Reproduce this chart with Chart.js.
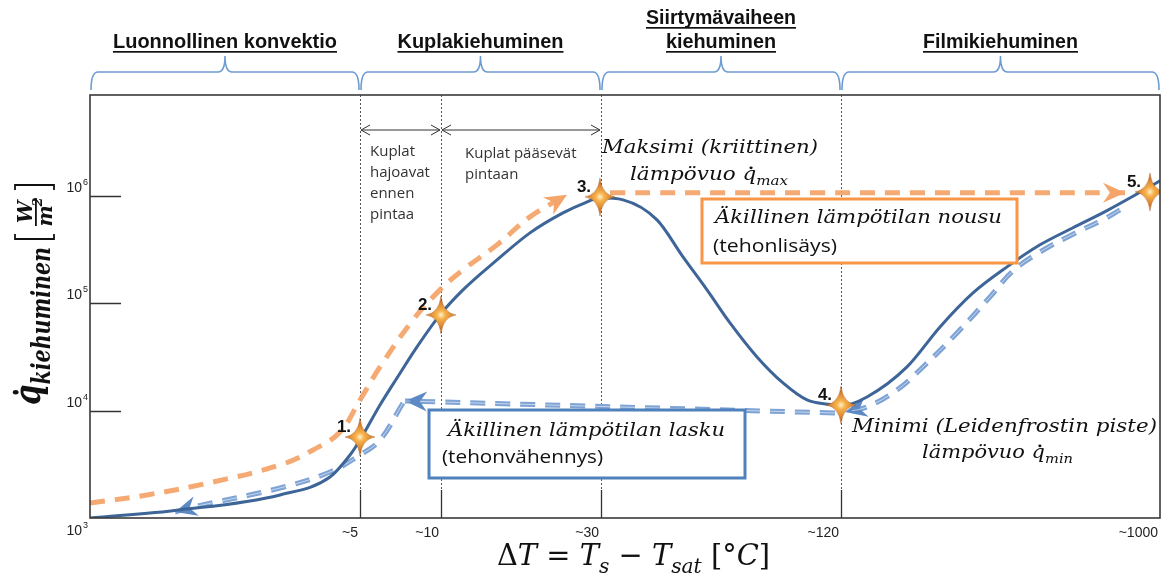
<!DOCTYPE html>
<html>
<head>
<meta charset="utf-8">
<script src="https://cdn.jsdelivr.net/npm/chart.js@4.4.0/dist/chart.umd.min.js"></script>
<style>
  html, body { margin: 0; padding: 0; background: #fff; }
  canvas { display: block; }
</style>
</head>
<body>
<canvas id="chart" width="1176" height="573"></canvas>
<script>
// x is a schematic position (0 = left edge, 107 = right edge); the real ΔT axis is not to scale
const xTicks = [27, 35.1, 51.1, 75.1, 107];
const xTickLabels = ['~5', '~10', '~30', '~120', '~1000'];
const yTicks = [1e3, 1e4, 1e5, 1e6];
const yTickExp = ['3', '4', '5', '6'];

const regionEdges = [0, 27, 51.1, 75.1, 107];
const regionTitles = [['Luonnollinen konvektio'], ['Kuplakiehuminen'], ['Siirtymävaiheen', 'kiehuminen'], ['Filmikiehuminen']];
const regionTitleWidths = [[224], [166], [150, 110], [155]];

// boiling curve (W/m2)
const curveX = [0, 9, 19, 24, 26, 27, 29, 30.7, 32.7, 35, 37.3, 40.7, 44, 47.3, 49.5, 51, 53.3, 56.7, 59.3, 61.7, 64, 66.7, 69.3, 71.7, 74, 75.1, 77.7, 81.7, 85, 88.3, 91.7, 95, 98.3, 101.7, 105, 107];
const curveQ = [1000, 1190, 1640, 2410, 3860, 5330, 11290, 20160, 39200, 77870, 133200, 253300, 452200, 694400, 860800, 958400, 918000, 597600, 270300, 133200, 65590, 31620, 18100, 12570, 11400, 11100, 13410, 25520, 60200, 124800, 218100, 350000, 505000, 730000, 1080000, 1380000];

// heating path (tehonlisäys)
const heatUpX = [0, 5.7, 12.3, 19, 22.3, 25, 27, 29, 32.3, 35, 37.3, 40.7, 44, 47.7];
const heatUpQ = [1380, 1640, 2165, 3117, 4301, 6328, 12570, 25520, 69950, 133200, 204500, 349700, 637500, 1022000];
const heatJumpX = [52, 103.5];
const heatJumpQ = [1067000, 1067000];

// cooling path (tehonvähennys)
const coolDownX = [103, 101.3, 98.3, 95, 92.3, 90, 86.7, 83.3, 80.7, 77.7, 75.5];
const coolDownQ = [740700, 600000, 440000, 300000, 200000, 114600, 52920, 25520, 15580, 10820, 9720];
const coolJumpX = [74.5, 31.5];
const coolJumpQ = [9500, 12300];
const coolLowX = [31.3, 29, 27, 24, 19, 10.3, 8.5];
const coolLowQ = [11790, 5330, 3864, 2683, 1903, 1266, 1137];

// numbered points
const starX = [27, 35.1, 51, 75.1, 106];
const starQ = [5685, 77870, 979000, 11290, 1090000];
const starLabels = ['1.', '2.', '3.', '4.', '5.'];

const SERIF = '"DejaVu Serif", serif';
const SANS = '"Liberation Sans", Arial, sans-serif';
const SOFT = '"Open Sans", sans-serif';

const pts = (xs, qs) => xs.map((x, i) => ({ x: x, y: qs[i] }));

const starCanvas = (() => {
  const c = document.createElement('canvas');
  c.width = 30; c.height = 38;
  const g = c.getContext('2d');
  const cx = 15, cy = 19;
  const grad = g.createRadialGradient(cx, cy, 0, cx, cy, 17);
  grad.addColorStop(0, '#fff2cc');
  grad.addColorStop(0.25, '#f7b24c');
  grad.addColorStop(1, '#c4621a');
  g.beginPath();
  g.moveTo(cx, 0);
  g.quadraticCurveTo(cx + 2, cy - 2, 30, cy);
  g.quadraticCurveTo(cx + 2, cy + 2, cx, 38);
  g.quadraticCurveTo(cx - 2, cy + 2, 0, cy);
  g.quadraticCurveTo(cx - 2, cy - 2, cx, 0);
  g.closePath();
  g.fillStyle = grad;
  g.fill();
  g.strokeStyle = 'rgba(150,75,20,0.6)';
  g.lineWidth = 0.6;
  g.stroke();
  return c;
})();

function rich(ctx, parts, x, y, o) {
  const size = o.size, fam = o.fam || SERIF;
  const font = p => (p.i ? 'italic ' : '') + (o.bold ? 'bold ' : '') + (p.sub ? size * 0.7 : size) + 'px ' + (p.fam || fam);
  const ws = parts.map(p => { ctx.font = font(p); return ctx.measureText(p.t).width; });
  const total = ws.reduce((s, w) => s + w, 0);
  const sx = o.width ? o.width / total : 1;
  ctx.save();
  ctx.translate(x, y);
  if (o.rot) ctx.rotate(o.rot);
  ctx.scale(sx, 1);
  ctx.textAlign = 'left';
  ctx.textBaseline = 'alphabetic';
  ctx.fillStyle = o.color || '#111';
  let cx = o.align === 'center' ? -total / 2 : o.align === 'right' ? -total : 0;
  parts.forEach((p, i) => {
    ctx.font = font(p);
    ctx.fillText(p.t, cx, p.sub ? size * 0.25 : 0);
    if (p.dot) {
      ctx.beginPath();
      ctx.arc(cx + ws[i] * 0.62, -size * 0.64, size * 0.075, 0, Math.PI * 2);
      ctx.fill();
    }
    cx += ws[i];
  });
  ctx.restore();
}
const I = t => ({ t: t, i: true });
const R = t => ({ t: t });
const S = t => ({ t: t, i: true, sub: true });
const Q = { t: 'q', i: true, dot: true };

function arrowHead(ctx, tip, from, color) {
  const a = Math.atan2(tip.y - from.y, tip.x - from.x);
  ctx.save();
  ctx.translate(tip.x, tip.y);
  ctx.rotate(a);
  ctx.beginPath();
  ctx.moveTo(0, 0);
  ctx.lineTo(-22, -10);
  ctx.lineTo(-15, 0);
  ctx.lineTo(-22, 10);
  ctx.closePath();
  ctx.fillStyle = color;
  ctx.fill();
  ctx.restore();
}

function chevron(ctx, x, y, dir) {
  ctx.beginPath();
  ctx.moveTo(x + dir * 9, y - 5);
  ctx.lineTo(x, y);
  ctx.lineTo(x + dir * 9, y + 5);
  ctx.stroke();
}

const arrowSets = { heatUp: '#f4a56a', heatJump: '#f4a56a', coolDown: '#5d89c4', coolJump: '#5d89c4', coolLow: '#5d89c4' };

const decor = {
  id: 'decor',
  beforeDatasetsDraw(chart) {
    const { ctx, chartArea: a, scales: { x, y } } = chart;
    ctx.save();
    xTicks.slice(0, 4).forEach(v => {
      const px = Math.round(x.getPixelForValue(v)) + 0.5;
      ctx.strokeStyle = '#555';
      ctx.lineWidth = 1;
      ctx.setLineDash([2, 2]);
      ctx.beginPath(); ctx.moveTo(px, a.top); ctx.lineTo(px, a.bottom - 28); ctx.stroke();
      ctx.setLineDash([]);
      ctx.strokeStyle = '#333';
      ctx.lineWidth = 1.3;
      ctx.beginPath(); ctx.moveTo(px, a.bottom - 28); ctx.lineTo(px, a.bottom); ctx.stroke();
    });
    ctx.strokeStyle = '#333';
    ctx.lineWidth = 1.5;
    yTicks.slice(1).forEach(v => {
      const py = Math.round(y.getPixelForValue(v)) + 0.5;
      ctx.beginPath(); ctx.moveTo(a.left, py); ctx.lineTo(a.left + 31, py); ctx.stroke();
    });
    ctx.restore();
  },
  afterDatasetDraw(chart, args) {
    const ds = chart.data.datasets[args.index];
    const color = arrowSets[ds.key];
    if (!color) return;
    const p = args.meta.data;
    const n = p.length;
    arrowHead(chart.ctx, p[n - 1], p[n - 2], color);
  },
  afterDatasetsDraw(chart) {
    const { ctx, chartArea: a, scales: { x, y } } = chart;
    ctx.save();

    // frame
    ctx.strokeStyle = '#3a3a3a';
    ctx.lineWidth = 1.6;
    ctx.strokeRect(a.left, a.top, a.right - a.left, a.bottom - a.top);

    // tick labels
    ctx.fillStyle = '#222';
    ctx.textBaseline = 'alphabetic';
    xTicks.forEach((v, i) => {
      ctx.font = '14px ' + SANS;
      ctx.textAlign = 'right';
      ctx.fillText(xTickLabels[i], x.getPixelForValue(v) - 2, a.bottom + 19);
    });
    yTicks.forEach((v, i) => {
      const py = y.getPixelForValue(v);
      const base = i === 0 ? py + 17 : py - 4;
      ctx.textAlign = 'right';
      ctx.font = '9px ' + SANS;
      ctx.fillText(yTickExp[i], a.left - 2, base - 7);
      ctx.font = '14px ' + SANS;
      ctx.fillText('10', a.left - 8, base);
    });

    // braces and regime titles
    ctx.strokeStyle = '#6d9bd2';
    ctx.lineWidth = 1.6;
    const y0 = a.top - 5, y1 = a.top - 23, y2 = a.top - 39, r = 7;
    for (let k = 0; k < 4; k++) {
      const l = x.getPixelForValue(regionEdges[k]);
      const rt = x.getPixelForValue(regionEdges[k + 1]);
      const m = (l + rt) / 2;
      ctx.beginPath();
      ctx.moveTo(l + 1, y0);
      ctx.quadraticCurveTo(l + 1, y1, l + 1 + r, y1);
      ctx.lineTo(m - r, y1);
      ctx.quadraticCurveTo(m, y1, m, y2);
      ctx.quadraticCurveTo(m, y1, m + r, y1);
      ctx.lineTo(rt - 1 - r, y1);
      ctx.quadraticCurveTo(rt - 1, y1, rt - 1, y0);
      ctx.stroke();

      const lines = regionTitles[k];
      lines.forEach((t, j) => {
        const base = a.top - 47 - (lines.length - 1 - j) * 24;
        const w = regionTitleWidths[k][j];
        rich(ctx, [R(t)], m, base, { size: 20, width: w, align: 'center', bold: true, fam: SANS });
        ctx.fillStyle = '#111';
        ctx.fillRect(m - w / 2, base + 3, w, 1.7);
      });
    }

    // bubble sub-regions
    const ay = a.top + 35;
    const p5 = x.getPixelForValue(xTicks[0]), p10 = x.getPixelForValue(xTicks[1]), p30 = x.getPixelForValue(xTicks[2]);
    ctx.strokeStyle = '#333';
    ctx.lineWidth = 1;
    ctx.beginPath(); ctx.moveTo(p5 + 1, ay); ctx.lineTo(p10 - 1, ay); ctx.moveTo(p10 + 1, ay); ctx.lineTo(p30 - 1, ay); ctx.stroke();
    chevron(ctx, p5 + 1, ay, 1); chevron(ctx, p10 - 1, ay, -1);
    chevron(ctx, p10 + 1, ay, 1); chevron(ctx, p30 - 1, ay, -1);
    ctx.fillStyle = '#333';
    ctx.textAlign = 'left';
    ctx.font = '15px ' + SOFT;
    ['Kuplat', 'hajoavat', 'ennen', 'pintaa'].forEach((t, j) => ctx.fillText(t, p5 + 10, a.top + 61 + j * 21));
    ['Kuplat pääsevät', 'pintaan'].forEach((t, j) => ctx.fillText(t, p10 + 24, a.top + 63 + j * 21));

    // boxes
    ctx.fillStyle = '#fff';
    ctx.lineWidth = 3;
    ctx.strokeStyle = '#f79646';
    ctx.fillRect(702, 199, 315, 64); ctx.strokeRect(702, 199, 315, 64);
    ctx.strokeStyle = '#4f81bd';
    ctx.fillRect(429, 410, 316, 68); ctx.strokeRect(429, 410, 316, 68);

    rich(ctx, [I('Äkillinen lämpötilan nousu')], 715, 223, { size: 19, width: 287 });
    rich(ctx, [R('(tehonlisäys)')], 713, 252, { size: 18, width: 124, fam: SOFT });
    rich(ctx, [I('Äkillinen lämpötilan lasku')], 448, 436, { size: 19, width: 277 });
    rich(ctx, [R('(tehonvähennys)')], 442, 463, { size: 18, width: 161, fam: SOFT });

    rich(ctx, [I('Maksimi (kriittinen)')], 710, 153, { size: 19, width: 216, align: 'center' });
    rich(ctx, [I('lämpövuo '), Q, S('max')], 709, 180, { size: 19, width: 158, align: 'center' });
    rich(ctx, [I('Minimi (Leidenfrostin piste)')], 852, 432, { size: 19, width: 305 });
    rich(ctx, [I('lämpövuo '), Q, S('min')], 922, 458, { size: 19, width: 151 });

    // star labels
    const sm = chart.getDatasetMeta(0).data;
    ctx.fillStyle = '#111';
    ctx.textAlign = 'center';
    ctx.font = 'bold 17px ' + SANS;
    sm.forEach((p, i) => ctx.fillText(starLabels[i], p.x - 16, p.y - 5));

    // axis titles
    rich(ctx, [R('Δ'), I('T'), R(' = '), I('T'), S('s'), R(' − '), I('T'), S('sat'), R(' [°'), I('C'), R(']')], 497, 565, { size: 30, width: 273 });
    rich(ctx, [Q, S('kiehuminen')], 40, 405, { size: 38, width: 158, rot: -Math.PI / 2, bold: true });
    ctx.save();
    ctx.translate(40, 212);
    ctx.rotate(-Math.PI / 2);
    ctx.fillStyle = '#111';
    ctx.strokeStyle = '#111';
    ctx.textAlign = 'center';
    ctx.font = 'bold italic 20px ' + SERIF;
    ctx.fillText('W', 0, -8);
    ctx.fillRect(-14, -5, 28, 1.8);
    ctx.fillText('m', -4, 12);
    ctx.font = 'bold italic 13px ' + SERIF;
    ctx.fillText('2', 10, 2);
    ctx.lineWidth = 1.8;
    ctx.beginPath();
    ctx.moveTo(-22, -25); ctx.lineTo(-27, -25); ctx.lineTo(-27, 14); ctx.lineTo(-22, 14);
    ctx.moveTo(22, -25); ctx.lineTo(27, -25); ctx.lineTo(27, 14); ctx.lineTo(22, 14);
    ctx.stroke();
    ctx.restore();

    ctx.restore();
  }
};

const dashed = (key, xs, qs, color, width) => ({
  key: key, data: pts(xs, qs),
  borderColor: color, borderWidth: width, borderDash: [15, 10],
  borderCapStyle: 'butt', pointRadius: 0, tension: 0.4, fill: false
});

new Chart(document.getElementById('chart'), {
  type: 'line',
  data: {
    datasets: [
      { key: 'stars', data: pts(starX, starQ), showLine: false, pointStyle: starCanvas, pointRadius: 12 },
      { key: 'curve', data: pts(curveX, curveQ), borderColor: '#3d6598', borderWidth: 3, pointRadius: 0, cubicInterpolationMode: 'monotone', fill: false },
      dashed('heatUp', heatUpX, heatUpQ, 'rgba(244,160,100,0.9)', 5),
      dashed('heatJump', heatJumpX, heatJumpQ, 'rgba(244,160,100,0.9)', 5),
      dashed('coolDownIn', coolDownX, coolDownQ, 'rgba(255,255,255,0.55)', 1, true),
      dashed('coolJumpIn', coolJumpX, coolJumpQ, 'rgba(255,255,255,0.55)', 1, true),
      dashed('coolLowIn', coolLowX, coolLowQ, 'rgba(255,255,255,0.55)', 1, true),
      dashed('coolDown', coolDownX, coolDownQ, '#7ea3d4', 5),
      dashed('coolJump', coolJumpX, coolJumpQ, '#7ea3d4', 5),
      dashed('coolLow', coolLowX, coolLowQ, '#7ea3d4', 5)
    ]
  },
  options: {
    responsive: false,
    animation: false,
    events: [],
    layout: { padding: { left: 90, right: 16, top: 95, bottom: 55 } },
    scales: {
      x: { type: 'linear', min: 0, max: 107, bounds: 'data', display: false },
      y: { type: 'logarithmic', min: 1000, max: 8.7e6, bounds: 'data', display: false }
    },
    plugins: { legend: { display: false }, tooltip: { enabled: false } }
  },
  plugins: [decor]
});
</script>
</body>
</html>
